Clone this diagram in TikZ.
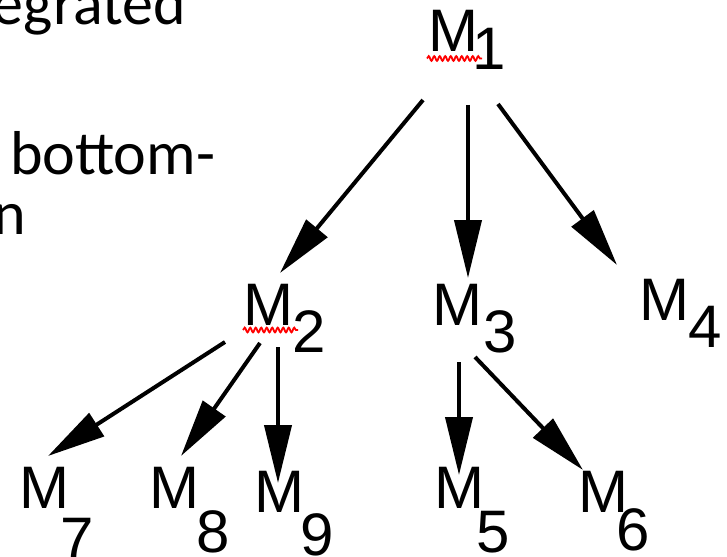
\documentclass[tikz,border=0pt]{standalone}
\usepackage{fontspec}
\usetikzlibrary{arrows.meta,calc,decorations.pathmorphing}
\newfontfamily\slidefont{Carlito}
\newfontfamily\labelfont{Liberation Sans}
% module label: M with a full-size index set lower and to the right
\newcommand{\modlbl}[3]{M\kern#2\raisebox{-#3}{#1}}
\tikzset{
  module/.style={inner sep=0pt, outer sep=0pt, anchor=base west,
    font=\labelfont\fontsize{60}{60}\selectfont},
  slidetext/.style={inner sep=0pt, outer sep=0pt,
    font=\slidefont\fontsize{62}{72}\selectfont},
  call/.style={line width=4pt, -{Triangle[length=58pt,width=27pt]}},
  spell/.style={draw=red, line width=1.8pt, decorate,
    decoration={snake, amplitude=2.4pt, segment length=5.5pt}}
}
\begin{document}
\begin{tikzpicture}[x=1pt,y=-1pt]
\useasboundingbox (0,0) rectangle (727,556);
\clip (0,0) rectangle (727,556);

% bullet text cut off at the left edge
\node[slidetext, anchor=base east] (t1) at (186,25) {egrated};
\node[slidetext, anchor=base west] (t2) at (10,174) {bottom-};
\node[slidetext, anchor=base east] (t3) at (26,234) {n};

% modules
\node[module] (m1) at (428,52)  {\modlbl{1}{-5.1pt}{18pt}};
\node[module] (m2) at (243,325) {\modlbl{2}{-0.4pt}{27pt}};
\node[module] (m3) at (432,325) {\modlbl{3}{1.9pt}{27pt}};
\node[module] (m4) at (639,320) {\modlbl{4}{0pt}{27pt}};
\node[module] (m7) at (19,508)  {\modlbl{7}{-8.4pt}{51pt}};
\node[module] (m8) at (149,508) {\modlbl{8}{-2.1pt}{44pt}};
\node[module] (m9) at (254,512) {\modlbl{9}{-3.8pt}{43pt}};
\node[module] (m5) at (434,508) {\modlbl{5}{-7.1pt}{44pt}};
\node[module] (m6) at (578,512) {\modlbl{6}{-11.9pt}{38pt}};

% spell-check underlines
\draw[spell] ($(m1.base west)+(-1,6.5)$) -- ($(m1.base west)+(54,6.5)$);
\draw[spell] ($(m2.base west)+(0,5)$) -- ($(m2.base west)+(55,5)$);

% calls
\draw[call] ($(m1.base west)+(-5,48)$) -- ($(m2.base west)+(37,-52)$);
\draw[call] ($(m1.base west)+(40,53)$) -- ($(m3.base west)+(36,-47)$);
\draw[call] ($(m1.base west)+(70,52)$) -- ($(m4.base west)+(-22,-55)$);
\draw[call] ($(m2.base west)+(-18,17)$) -- ($(m7.base west)+(29,-52)$);
\draw[call] ($(m2.base west)+(17,18)$) -- ($(m8.base west)+(32,-52)$);
\draw[call] ($(m2.base west)+(35,22)$) -- ($(m9.base west)+(24,-29)$);
\draw[call] ($(m3.base west)+(27,37)$) -- ($(m5.base west)+(25,-33)$);
\draw[call] ($(m3.base west)+(43,32)$) -- ($(m6.base west)+(5,-42)$);
\end{tikzpicture}
\end{document}
